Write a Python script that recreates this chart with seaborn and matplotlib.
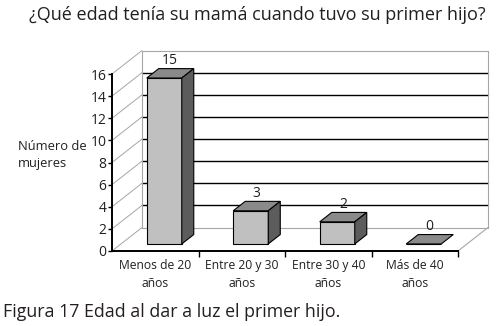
import matplotlib
matplotlib.use("Agg")
import matplotlib.pyplot as plt
import matplotlib.transforms as mtransforms
from matplotlib.patches import Polygon
import seaborn as sns
import pandas as pd

# ---- data ----
categories = ["Menos de 20\naños", "Entre 20 y 30\naños", "Entre 30 y 40\naños", "Más de 40\naños"]
values = [15, 3, 2, 0]
y_ticks = [0, 2, 4, 6, 8, 10, 12, 14, 16]
title = "¿Qué edad tenía su mamá cuando tuvo su primer hijo?"
ylabel = "Número de\nmujeres"
caption = "Figura 17 Edad al dar a luz el primer hijo."

df = pd.DataFrame({"cat": categories, "val": values})

sns.set_theme(style="white")
plt.rcParams["font.family"] = ["Open Sans"]
TXT = "#231f20"

W, H = 501, 326
fig = plt.figure(figsize=(W / 100, H / 100), dpi=100)

# geometry (pixels)
x0_px, y0_px = 112, 251
cat_px = 86.5
unit_px = 177 / 16
ddx = 30 / cat_px          # total depth in data units (x)
ddy = 23.5 / unit_px       # total depth in data units (y)
xmin, xmax = -0.5, 3.5 + ddx + 0.03
ymin, ymax = 0, 16 + ddy + 0.1
wpx = (xmax - xmin) * cat_px
hpx = (ymax - ymin) * unit_px
ax = fig.add_axes([x0_px / W, (H - y0_px) / H, wpx / W, hpx / H])
ax.patch.set_alpha(0)

sns.barplot(data=df, x="cat", y="val", width=0.405, color="#c0c0c0",
            edgecolor="black", linewidth=0.8, saturation=1, ax=ax, zorder=3)
ax.set_xlim(xmin, xmax)
ax.set_ylim(ymin, ymax)

# walls
wall = "#a6a6a6"
bx0, bx1 = -0.5 + ddx, 3.5 + ddx
for v in y_ticks:
    ax.plot([-0.5, bx0], [v, v + ddy], color=wall, lw=0.7, zorder=1, clip_on=False)
for v in y_ticks[1:-1]:
    ax.plot([bx0, bx1], [v + ddy, v + ddy], color="black", lw=1.0, zorder=1, clip_on=False)
ax.plot([bx0, bx1], [ddy, ddy], color=wall, lw=0.8, zorder=1, clip_on=False)
ax.plot([bx0, bx1], [16 + ddy, 16 + ddy], color=wall, lw=0.8, zorder=1, clip_on=False)
ax.plot([bx0, bx0], [ddy, 16 + ddy], color=wall, lw=0.8, zorder=1, clip_on=False)
ax.plot([bx1, bx1], [ddy, 16 + ddy], color=wall, lw=0.8, zorder=1, clip_on=False)
ax.plot([3.5, bx1], [0, ddy], color=wall, lw=0.8, zorder=1, clip_on=False)

# 3D bars
f, fy = 0.3 * ddx, 0.3 * ddy
b, by = 0.4 * ddx, 0.4 * ddy
shift = mtransforms.Affine2D().translate(f, fy)
for p, v in zip(ax.patches, values):
    x = p.get_x(); w = p.get_width(); h = p.get_height()
    p.set_transform(shift + ax.transData)
    top = Polygon([(x + f, fy + h), (x + w + f, fy + h),
                   (x + w + f + b, fy + h + by), (x + f + b, fy + h + by)],
                  closed=True, facecolor="#8a8a8a", edgecolor="black", lw=0.8, zorder=3)
    ax.add_patch(top)
    if h > 0:
        side = Polygon([(x + w + f, fy), (x + w + f, fy + h),
                        (x + w + f + b, fy + h + by), (x + w + f + b, fy + by)],
                       closed=True, facecolor="#5c5c5c", edgecolor="black", lw=0.8, zorder=3)
        ax.add_patch(side)
    ax.annotate(str(v), xy=(x + w / 2 + f + b / 2, fy + h + by / 2), xytext=(0, 9),
                textcoords="offset points", ha="center", va="center",
                fontsize=10, color=TXT, zorder=5)

# axes styling
for s in ["top", "right"]:
    ax.spines[s].set_visible(False)
ax.spines["left"].set_bounds(0, 16)
ax.spines["bottom"].set_bounds(-0.5, 3.5)
for s in ["left", "bottom"]:
    ax.spines[s].set_color("black")
    ax.spines[s].set_linewidth(1.4)
    ax.spines[s].set_zorder(4)
ax.set_yticks(y_ticks)
ax.set_yticklabels([str(t) for t in y_ticks], fontsize=10, color=TXT)
ax.tick_params(axis="y", left=True, length=3, width=1, color="black", pad=1)

# category labels: each line centred under its category
ax.set_xticks(range(len(categories)))
ax.set_xticklabels([""] * len(categories))
for i, cat in enumerate(categories):
    for j, line in enumerate(cat.split("\n")):
        ax.annotate(line, xy=(i, 0), xycoords=("data", "axes fraction"),
                    xytext=(0, -10.3 - 12.8 * j), textcoords="offset points",
                    ha="center", va="center", fontsize=8.7, color=TXT)
ax.set_xticks([0.5, 1.5, 2.5, 3.5], minor=True)
ax.tick_params(axis="x", which="major", length=0)
ax.tick_params(axis="x", which="minor", bottom=True, length=4, width=1, color="black")
ax.set_xlabel("")
ax.set_ylabel(ylabel, rotation=0, ha="left", va="center", fontsize=9.3,
              color=TXT, multialignment="left", linespacing=1.3)
ax.yaxis.set_label_coords((18 - x0_px) / wpx, (251 - 155) / hpx)
ax.grid(False)

fig.text(257 / W, 1 - 15 / H, title, ha="center", va="center", fontsize=13, color=TXT)
fig.text(3 / W, 1 - 312 / H, caption, ha="left", va="center", fontsize=12.8, color=TXT)

fig.savefig("out.png", dpi=100)
